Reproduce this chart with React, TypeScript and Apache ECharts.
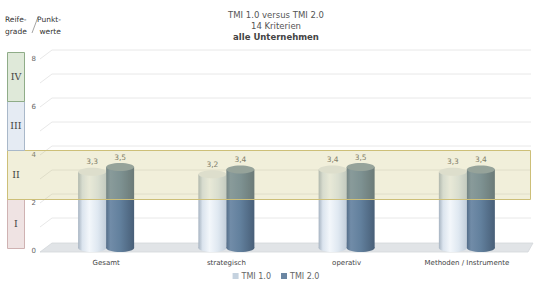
import React, { useEffect, useRef } from "react";
import * as echarts from "echarts";

const categories = ["Gesamt", "strategisch", "operativ", "Methoden / Instrumente"];
const tmi1 = [3.3, 3.2, 3.4, 3.3];
const tmi2 = [3.5, 3.4, 3.5, 3.4];
const seriesNames = ["TMI 1.0", "TMI 2.0"];
const gridTicks = [0, 1, 2, 3, 4, 5, 6, 7, 8];
const levelNames = ["I", "II", "III", "IV"];
const levelFrom = [0, 2, 4, 6];
const levelTo = [2, 4, 6, 8];
const bandLevel = "II";
const titleLines = ["TMI 1.0 versus TMI 2.0", "14 Kriterien", "alle Unternehmen"];

const FONT = "DejaVu Sans";

const levelStyles: Record<string, { fill: string; stroke: string }> = {
  I: { fill: "#efe3e3", stroke: "#cfb2b2" },
  II: { fill: "rgba(205,195,120,0.27)", stroke: "#cdbf78" },
  III: { fill: "#e5ebf3", stroke: "#a9b8c9" },
  IV: { fill: "#dfe9d9", stroke: "#8fac88" },
};

const barStyles = [
  {
    body: [
      [0, "#a6b3c1"],
      [0.15, "#dbe4ee"],
      [0.4, "#f3f7fb"],
      [0.7, "#dfe8f1"],
      [1, "#c2cedb"],
    ],
    top: "#e4e8ec",
    legend: "#c5d2df",
  },
  {
    body: [
      [0, "#526c88"],
      [0.15, "#718ca8"],
      [0.5, "#62809d"],
      [1, "#485f78"],
    ],
    top: "#8397a8",
    legend: "#6b86a2",
  },
];

function makeGradient(stops: any[]) {
  return new echarts.graphic.LinearGradient(
    0,
    0,
    1,
    0,
    stops.map((s) => ({ offset: s[0], color: s[1] }))
  );
}

function cylinderSeries(idx: number, values: number[]) {
  const st = barStyles[idx];
  const w = 28;
  const offset = idx === 0 ? -14 : 14;
  return {
    type: "custom",
    name: seriesNames[idx],
    xAxisIndex: 0,
    yAxisIndex: 0,
    z: 3,
    itemStyle: { color: st.legend },
    data: values.map((v, i) => [i, v]),
    renderItem: (params: any, api: any) => {
      const top = api.coord([api.value(0), api.value(1)]);
      const base = api.coord([api.value(0), 0]);
      const cx = top[0] + offset;
      const ry = 4;
      const grad = makeGradient(st.body);
      const label = String(api.value(1).toFixed(1)).replace(".", ",");
      return {
        type: "group",
        children: [
          {
            type: "ellipse",
            shape: { cx, cy: base[1] - 3, rx: w / 2, ry },
            style: { fill: grad },
          },
          {
            type: "rect",
            shape: { x: cx - w / 2, y: top[1], width: w, height: base[1] - 3 - top[1] },
            style: { fill: grad },
          },
          {
            type: "ellipse",
            shape: { cx, cy: top[1], rx: w / 2, ry },
            style: { fill: st.top },
          },
          {
            type: "text",
            style: {
              x: cx,
              y: top[1] - ry - 2,
              text: label,
              align: "center",
              verticalAlign: "bottom",
              fontFamily: FONT,
              fontSize: 7.5,
              fill: "#666",
            },
          },
        ],
      };
    },
  };
}

export default function App() {
  const ref = useRef<HTMLDivElement>(null);
  useEffect(() => {
    document.body.style.margin = "0";
    const chart = echarts.init(ref.current!, null, { renderer: "svg" });
    const option: any = {
      animation: false,
      backgroundColor: "#fff",
      title: {
        left: "center",
        top: 4,
        text: `{a|${titleLines[0]}}\n{a|${titleLines[1]}}\n{b|${titleLines[2]}}`,
        textStyle: {
          fontWeight: "normal",
          rich: {
            a: { fontFamily: FONT, fontSize: 8.5, color: "#555", fontWeight: "normal", lineHeight: 11 },
            b: { fontFamily: FONT, fontSize: 8.5, color: "#444", fontWeight: "bold", lineHeight: 11 },
          },
        },
      },
      legend: {
        bottom: 6,
        left: "center",
        icon: "rect",
        itemWidth: 6,
        itemHeight: 6,
        itemGap: 10,
        textStyle: { fontFamily: FONT, fontSize: 8, color: "#666", padding: [0, 0, 0, -2] },
        data: seriesNames,
      },
      grid: [
        { left: 46, right: 25, top: 59, bottom: 40 },
        { left: 7, width: 17, top: 52, bottom: 43 },
      ],
      xAxis: [
        {
          type: "category",
          gridIndex: 0,
          data: categories,
          axisLine: { show: false },
          axisTick: { show: false },
          axisLabel: { margin: 8, fontFamily: FONT, fontSize: 7, color: "#444" },
        },
        { type: "category", gridIndex: 1, data: [""], show: false },
      ],
      yAxis: [
        {
          type: "value",
          gridIndex: 0,
          min: 0,
          max: 8,
          interval: 2,
          splitLine: { show: false },
          axisLine: { show: false },
          axisTick: { show: false },
          axisLabel: { margin: 10, fontFamily: FONT, fontSize: 7, color: "#666" },
        },
        { type: "value", gridIndex: 1, min: 0, max: 8, show: false },
      ],
      graphic: [
        {
          type: "text",
          left: 5,
          top: 14,
          style: { text: "Reife-\ngrade", fontFamily: FONT, fontSize: 7.5, fill: "#333", lineHeight: 11.5 },
        },
        {
          type: "line",
          shape: { x1: 32, y1: 33, x2: 38, y2: 17 },
          style: { stroke: "#666", lineWidth: 0.6 },
        },
        {
          type: "text",
          left: 37,
          top: 14,
          style: { text: "Punkt-\n werte", fontFamily: FONT, fontSize: 7.5, fill: "#333", lineHeight: 11.5 },
        },
      ],
      series: [
        {
          type: "custom",
          xAxisIndex: 0,
          yAxisIndex: 0,
          z: 1,
          silent: true,
          data: gridTicks.map((t) => [0, t]),
          renderItem: (params: any, api: any) => {
            const cs = params.coordSys;
            const v = api.value(1);
            const y = api.coord([0, v])[1];
            const L = cs.x;
            const R = cs.x + cs.width;
            if (v === 0) {
              return {
                type: "polygon",
                shape: {
                  points: [
                    [L - 6, y + 1],
                    [L + 6, y - 8],
                    [R + 6, y - 8],
                    [R + 1, y + 1],
                  ],
                },
                style: { fill: "#e1e4e7", stroke: "#d3d7db", lineWidth: 0.8 },
              };
            }
            return {
              type: "polyline",
              shape: {
                points: [
                  [L - 6, y],
                  [L + 6, y - 9],
                  [R + 4, y - 9],
                ],
              },
              style: { stroke: "#e8e8e8", lineWidth: 1, fill: null },
            };
          },
        },
        cylinderSeries(0, tmi1),
        cylinderSeries(1, tmi2),
        {
          type: "custom",
          xAxisIndex: 1,
          yAxisIndex: 1,
          z: 6,
          clip: false,
          silent: true,
          data: levelNames.map((n, i) => [0, levelFrom[i], levelTo[i], i]),
          renderItem: (params: any, api: any) => {
            const cs = params.coordSys;
            const i = api.value(3);
            const name = levelNames[i];
            const y1 = api.coord([0, api.value(1)])[1];
            const y2 = api.coord([0, api.value(2)])[1];
            const st = levelStyles[name];
            const right = name === bandLevel ? api.getWidth() - 22 : cs.x + cs.width;
            return {
              type: "group",
              children: [
                {
                  type: "rect",
                  shape: { x: cs.x + 0.5, y: y2 + 0.5, width: right - cs.x, height: y1 - y2 },
                  style: { fill: st.fill, stroke: st.stroke, lineWidth: 1 },
                },
                {
                  type: "text",
                  style: {
                    x: cs.x + cs.width / 2 + 0.5,
                    y: (y1 + y2) / 2,
                    text: name,
                    align: "center",
                    verticalAlign: "middle",
                    fontFamily: "DejaVu Serif",
                    fontSize: 9.5,
                    fill: "#444",
                  },
                },
              ],
            };
          },
        },
      ],
    };
    chart.setOption(option);
    return () => chart.dispose();
  }, []);
  return <div ref={ref} style={{ width: 552, height: 291 }} />;
}
